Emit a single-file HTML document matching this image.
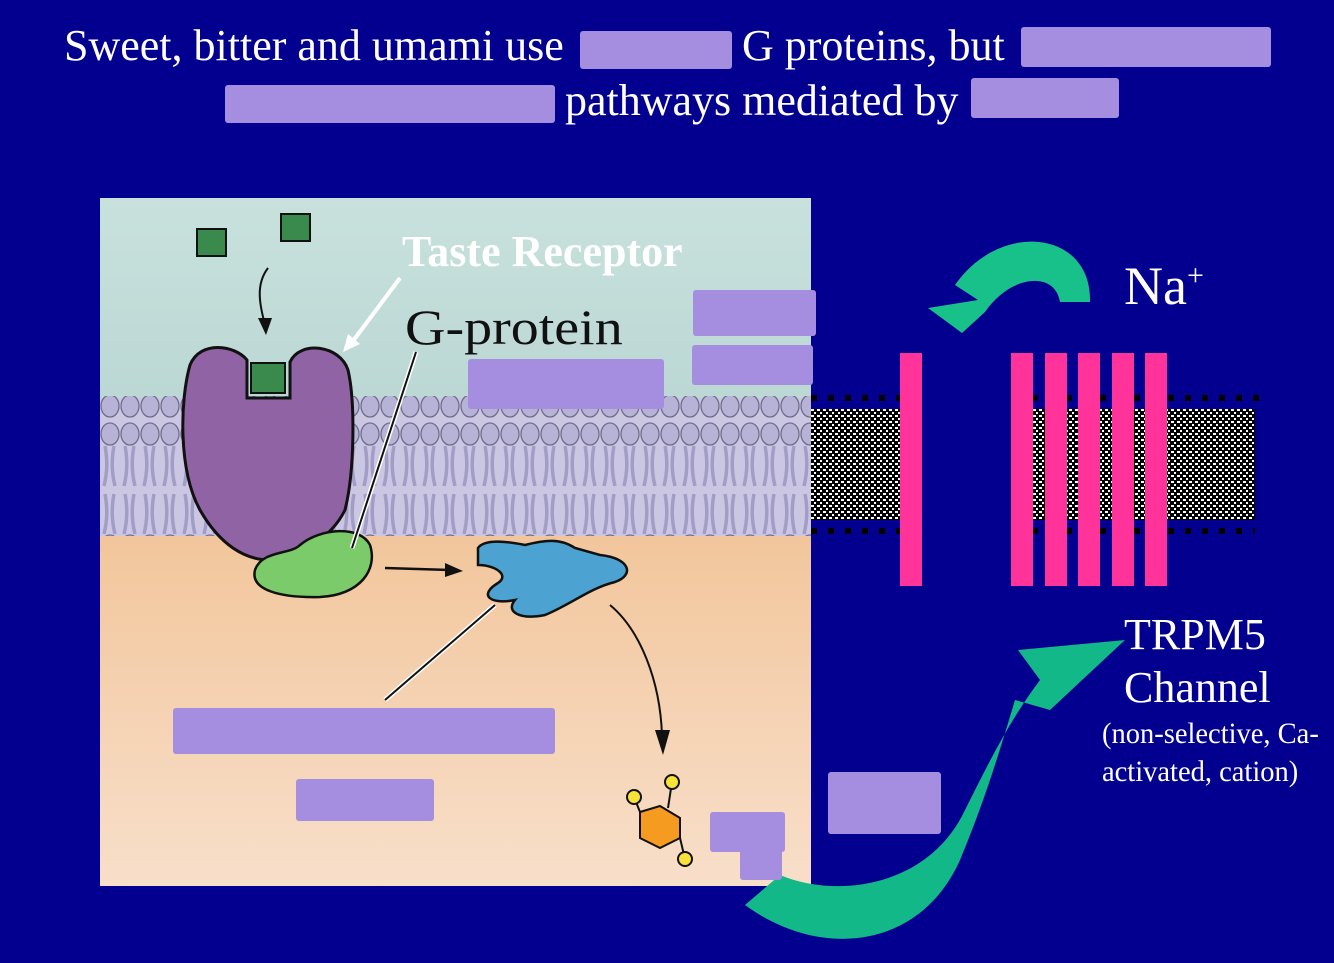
<!DOCTYPE html>
<html><head><style>
html,body{margin:0;padding:0;background:#03008f;width:1334px;height:963px;overflow:hidden}
.t{position:absolute;color:#fff;font-family:"Liberation Serif",serif;white-space:nowrap}
.b{position:absolute;background:#a58ddf;border-radius:3px}
</style></head><body>
<svg width="1334" height="963" style="position:absolute;left:0;top:0">
<defs>
<linearGradient id="top" x1="0" y1="0" x2="0" y2="1"><stop offset="0" stop-color="#c8e1dd"/><stop offset="1" stop-color="#bcd8d4"/></linearGradient>
<linearGradient id="bot" x1="0" y1="0" x2="0" y2="1"><stop offset="0" stop-color="#f2c69c"/><stop offset="1" stop-color="#f8dfca"/></linearGradient>
<pattern id="sp" width="6" height="6" patternUnits="userSpaceOnUse"><rect width="6" height="6" fill="#000"/><rect x="1" y="1" width="3" height="2" fill="#fff"/><rect x="4" y="4" width="2" height="2" fill="#fff"/></pattern>
<pattern id="bub" width="20" height="140" patternUnits="userSpaceOnUse"><ellipse cx="10" cy="14" rx="9" ry="11" fill="#b7b3d6" stroke="#6f6c8c" stroke-width="1.3"/><ellipse cx="10" cy="126" rx="9" ry="11" fill="#b7b3d6" stroke="#6f6c8c" stroke-width="1.3"/><path d="M5 26 q4 20 -1 40 M14 26 q-4 20 1 40 M5 74 q4 20 -1 40 M14 74 q-4 20 1 40" stroke="#a29dc6" stroke-width="3.5" fill="none"/></pattern>
</defs>
<rect x="100" y="198" width="711" height="200" fill="url(#top)"/>
<rect x="100" y="398" width="711" height="140" fill="#cbc7e2"/>
<rect x="100" y="396" width="711" height="140" fill="url(#bub)"/>
<rect x="100" y="536" width="711" height="350" fill="url(#bot)"/>
<rect x="811" y="409" width="444" height="111" fill="url(#sp)"/>
<line x1="811" y1="398" x2="1265" y2="398" stroke="#000" stroke-width="6" stroke-dasharray="6 11"/>
<line x1="811" y1="531" x2="1255" y2="531" stroke="#000" stroke-width="6" stroke-dasharray="6 11"/>
<rect x="922" y="392" width="89" height="146" fill="#03008f"/>
<g fill="#ff3399"><rect x="900" y="353" width="22" height="233"/><rect x="1011" y="353" width="22" height="233"/><rect x="1045" y="353" width="22" height="233"/><rect x="1078" y="353" width="22" height="233"/><rect x="1112" y="353" width="22" height="233"/><rect x="1145" y="353" width="22" height="233"/></g>
<path d="M247 398 L247 360 C235 345 200 340 190 365 C180 400 178 470 200 510 C220 545 245 560 270 560 C300 555 330 540 345 510 C355 470 355 400 348 370 C340 345 300 340 290 362 L290 398 Z" fill="#9064a4" stroke="#111" stroke-width="3"/>
<rect x="251" y="363" width="34" height="30" fill="#3a8a4e" stroke="#111" stroke-width="2"/>
<path d="M255 570 C262 550 290 555 300 545 C320 528 360 525 370 545 C378 570 360 595 320 597 C280 598 250 590 255 570Z" fill="#7ccb6a" stroke="#111" stroke-width="2.5"/>
<path d="M478 548 C485 538 510 542 525 545 C545 540 560 538 575 548 L600 555 C630 558 635 575 615 582 C590 588 570 605 545 615 C520 620 505 612 515 600 C490 605 478 595 498 583 C510 575 495 565 478 565 Z" fill="#4ca2d0" stroke="#111" stroke-width="2.5"/>
<rect x="197" y="229" width="29" height="27" fill="#3a8a4e" stroke="#111" stroke-width="2"/>
<rect x="281" y="214" width="29" height="27" fill="#3a8a4e" stroke="#111" stroke-width="2"/>
<path d="M268 268 C255 285 260 305 265 325" stroke="#111" stroke-width="2" fill="none"/><path d="M258 318 L266 335 L272 318Z" fill="#111"/>
<line x1="385" y1="568" x2="450" y2="570" stroke="#111" stroke-width="2.5"/><path d="M445 563 L463 571 L445 577Z" fill="#111"/>
<path d="M610 605 C640 630 660 680 662 735" stroke="#111" stroke-width="2" fill="none"/><path d="M655 730 L663 755 L670 730Z" fill="#111"/>
<line x1="400" y1="278" x2="350" y2="345" stroke="#fff" stroke-width="4"/><path d="M343 352 L348 334 L360 344Z" fill="#fff"/>
<line x1="416" y1="352" x2="352" y2="548" stroke="#fff" stroke-width="5"/><line x1="416" y1="352" x2="352" y2="548" stroke="#111" stroke-width="2"/>
<line x1="495" y1="605" x2="385" y2="700" stroke="#fff" stroke-width="5"/><line x1="495" y1="605" x2="385" y2="700" stroke="#111" stroke-width="2"/>
<polygon points="640,812 660,806 680,818 680,838 660,848 640,838" fill="#f59b20" stroke="#111" stroke-width="2"/>
<g stroke="#111" stroke-width="2"><line x1="640" y1="812" x2="634" y2="797"/><line x1="668" y1="808" x2="672" y2="782"/><line x1="680" y1="838" x2="685" y2="859"/></g>
<g fill="#f7e23a" stroke="#111" stroke-width="2"><circle cx="634" cy="797" r="7"/><circle cx="672" cy="782" r="7"/><circle cx="685" cy="859" r="7"/></g>
<path d="M1090 302 C1092 230 1000 220 955 285 L978 300 L928 308 L962 333 L985 312 C1010 275 1055 270 1060 302 Z" fill="#18c08a"/>
<path d="M745 905 C820 960 920 950 960 860 C985 800 1000 750 1015 700 L1050 710 L1125 640 L1018 650 L1040 680 C1010 720 990 760 965 810 C930 885 840 900 780 875 Z" fill="#12b888"/>
</svg>
<div class="t" style="left:64px;top:20px;font-size:44px">Sweet, bitter and umami use</div>
<div class="t" style="left:742px;top:20px;font-size:44px">G proteins, but</div>
<div class="t" style="left:565px;top:75px;font-size:44px">pathways mediated by</div>
<div class="b" style="left:580px;top:31px;width:152px;height:38px"></div>
<div class="b" style="left:1021px;top:27px;width:250px;height:40px"></div>
<div class="b" style="left:225px;top:85px;width:330px;height:38px"></div>
<div class="b" style="left:971px;top:78px;width:148px;height:40px"></div>
<div class="t" style="left:402px;top:226px;font-size:44px;font-weight:bold">Taste Receptor</div>
<div class="t" style="left:405px;top:298px;font-size:50px;color:#111;transform:scaleX(1.12);transform-origin:left">G-protein</div>
<div class="b" style="left:693px;top:290px;width:123px;height:46px"></div>
<div class="b" style="left:692px;top:345px;width:121px;height:40px"></div>
<div class="b" style="left:468px;top:359px;width:196px;height:50px"></div>
<div class="b" style="left:173px;top:708px;width:382px;height:46px"></div>
<div class="b" style="left:296px;top:779px;width:138px;height:42px"></div>
<div class="b" style="left:710px;top:812px;width:75px;height:40px"></div>
<div class="b" style="left:740px;top:840px;width:42px;height:40px"></div>
<div class="b" style="left:828px;top:772px;width:113px;height:62px"></div>
<div class="t" style="left:1124px;top:255px;font-size:54px">Na<sup style="font-size:30px">+</sup></div>
<div class="t" style="left:1124px;top:609px;font-size:44px">TRPM5</div>
<div class="t" style="left:1124px;top:662px;font-size:44px">Channel</div>
<div class="t" style="left:1102px;top:717px;font-size:30px;transform:scaleX(0.95);transform-origin:left">(non-selective, Ca-</div>
<div class="t" style="left:1102px;top:755px;font-size:30px;transform:scaleX(0.95);transform-origin:left">activated, cation)</div>
</body></html>
